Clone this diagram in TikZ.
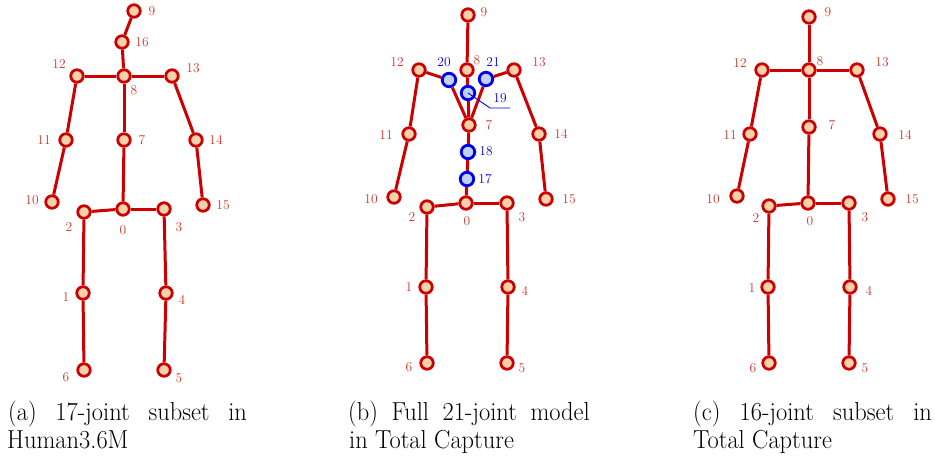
\documentclass[tikz,border=0pt]{standalone}
\usepackage{xcolor}
\usepackage{graphicx}
\definecolor{bone}{RGB}{204,0,0}
\definecolor{peach}{RGB}{246,210,172}
\definecolor{labred}{RGB}{205,55,40}
\definecolor{jblue}{RGB}{0,0,235}
\definecolor{lblue}{RGB}{190,210,242}
\newcommand{\capline}[2]{\scalebox{0.94}[1]{\makebox[#1][s]{#2}}}
\newcommand{\capnat}[1]{\scalebox{0.94}[1]{#1}}
\begin{document}
\begin{tikzpicture}[x=1pt,y=-1pt,
  joint/.style={circle,draw=bone,fill=peach,line width=2.8pt,minimum size=12.5pt,inner sep=0pt},
  bjoint/.style={circle,draw=jblue,fill=lblue,line width=2.8pt,minimum size=13.5pt,inner sep=0pt},
  bonel/.style={draw=bone,line width=3pt},
  lab/.style={text=labred,font=\fontsize{13.5}{15}\selectfont,inner sep=0pt},
  blab/.style={text=jblue,font=\fontsize{13.5}{15}\selectfont,inner sep=0pt},
  captext/.style={inner sep=0pt,anchor=base west,font=\fontsize{26}{31}\selectfont}]
\useasboundingbox (0,0) rectangle (935,458);
% ---------- (a) ----------
\foreach \n/\x/\y in {9/134/11,16/122/42,12/77/76,8/124/76,13/172/76,11/66/140,7/124/140,14/196/140,10/52/202,0/123/209,2/84/212,3/164/209,15/203/205,1/83/293,4/166/293,6/84/370,5/164/370}
  \node[joint] (a\n) at (\x,\y) {};
\foreach \u/\v in {9/16,16/8,12/8,8/13,12/11,11/10,13/14,14/15,8/7,7/0,0/2,0/3,2/1,1/6,3/4,4/5}
  \draw[bonel] (a\u) -- (a\v);
\foreach \n/\x/\y in {9/152/11,16/142/42,12/59/64,8/134/90,13/193/68,11/44/140,7/142/140,14/216/140,10/32/200,15/223/205,2/69/227,0/123/230,3/179/227,1/66/297,4/182/300,6/66/377,5/179/378}
  \node[lab] (la\n) at (\x,\y) {\n};
% ---------- (b) ----------
\foreach \n/\x/\y in {9/468/15,12/419/70,8/467/70,13/514/70,7/469/125,11/409/134,14/539/134,10/394/197,15/546/199,0/466/203,2/427/207,3/507/203,1/426/287,4/508/287,6/427/363,5/507/363}
  \node[joint] (b\n) at (\x,\y) {};
\foreach \n/\x/\y in {20/449/80,21/486/79,19/468/93,18/468/152,17/467/179}
  \node[bjoint] (b\n) at (\x,\y) {};
\foreach \u/\v in {9/8,8/19,19/7,12/20,20/7,13/21,21/7,12/11,11/10,13/14,14/15,7/18,18/17,17/0,0/2,0/3,2/1,1/6,3/4,4/5}
  \draw[bonel] (b\u) -- (b\v);
\coordinate (k19a) at (490,108);
\coordinate (k19b) at (510,108);
\draw[jblue,line width=0.9pt] (b19.center) -- (k19a) -- (k19b);
\foreach \n/\x/\y in {9/484/12,12/397/62,8/477/60,13/539/62,7/489/125,11/386/135,14/561/134,10/371/199,15/569/199,2/412/217,0/467/221,3/522/217,1/409/287,4/525/291,6/409/367,5/522/368}
  \node[lab] (lb\n) at (\x,\y) {\n};
\foreach \n/\x/\y in {20/444/62,21/493/62,19/500/98,18/486/151,17/485/179}
  \node[blab] (lb\n) at (\x,\y) {\n};
% ---------- (c) ----------
\foreach \n/\x/\y in {9/809/17,12/762/70,8/809/70,13/857/70,7/809/127,11/750/134,14/880/134,10/737/196,15/888/199,0/808/203,2/769/206,3/849/203,1/768/287,4/850/287,6/769/363,5/849/363}
  \node[joint] (c\n) at (\x,\y) {};
\foreach \u/\v in {9/8,12/8,8/13,12/11,11/10,13/14,14/15,8/7,7/0,0/2,0/3,2/1,1/6,3/4,4/5}
  \draw[bonel] (c\u) -- (c\v);
\foreach \n/\x/\y in {9/828/12,12/740/63,8/820/61,13/882/62,7/832/125,11/730/135,14/905/135,10/713/199,15/912/199,2/756/218,0/810/221,3/865/217,1/752/288,4/869/291,6/753/368,5/865/368}
  \node[lab] (lc\n) at (\x,\y) {\n};
% ---------- captions ----------
\node[captext] (ca1) at (8,420) {\capline{254pt}{(a) 17-joint subset in}};
\node[captext] (ca2) at (7,448) {\capnat{Human3.6M}};
\node[captext] (cb1) at (348,420) {\capline{257pt}{(b) Full 21-joint model}};
\node[captext] (cb2) at (349,448) {\capnat{in Total Capture}};
\node[captext] (cc1) at (693,420) {\capline{254pt}{(c) 16-joint subset in}};
\node[captext] (cc2) at (693,448) {\capnat{Total Capture}};
\end{tikzpicture}
\end{document}
